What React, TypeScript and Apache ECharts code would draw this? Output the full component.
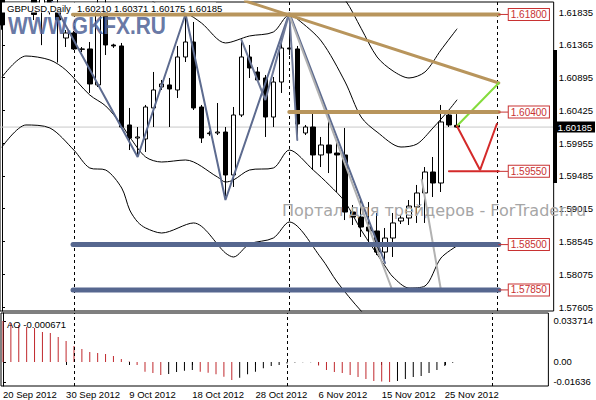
import React, { useEffect, useRef } from 'react';
import * as echarts from 'echarts';

// ---- data ----
const dates = [
  '20 Sep', '21 Sep', '23 Sep', '24 Sep', '25 Sep', '26 Sep', '27 Sep', '28 Sep', '30 Sep',
  '1 Oct', '2 Oct', '3 Oct', '4 Oct', '5 Oct', '7 Oct', '8 Oct', '9 Oct', '10 Oct', '11 Oct', '12 Oct',
  '14 Oct', '15 Oct', '16 Oct', '17 Oct', '18 Oct', '19 Oct', '21 Oct', '22 Oct', '23 Oct', '24 Oct',
  '25 Oct', '26 Oct', '28 Oct', '29 Oct', '30 Oct', '31 Oct', '1 Nov', '2 Nov', '4 Nov', '5 Nov',
  '6 Nov', '7 Nov', '8 Nov', '9 Nov', '11 Nov', '12 Nov', '13 Nov', '14 Nov', '15 Nov', '16 Nov',
  '18 Nov', '19 Nov', '20 Nov', '21 Nov', '22 Nov', '23 Nov', '25 Nov', '26 Nov',
];

// [open, close, low, high]
const ohlc: number[][] = [
  [1.6232, 1.6165, 1.6158, 1.6250],
  [1.6225, 1.6245, 1.6200, 1.6305],
  [1.6244, 1.6238, 1.6232, 1.6250],
  [1.6238, 1.6212, 1.6203, 1.6262],
  [1.6225, 1.6180, 1.6172, 1.6235],
  [1.6190, 1.6228, 1.6136, 1.6240],
  [1.6228, 1.6186, 1.6180, 1.6240],
  [1.6195, 1.6172, 1.6111, 1.6205],
  [1.61462, 1.61534, 1.61333, 1.61577],
  [1.61534, 1.61305, 1.61290, 1.61563],
  [1.61305, 1.61300, 1.61261, 1.61333],
  [1.61305, 1.60803, 1.60674, 1.61405],
  [1.60789, 1.61930, 1.60760, 1.62050],
  [1.61930, 1.61362, 1.61218, 1.62030],
  [1.61362, 1.61348, 1.61320, 1.61380],
  [1.61348, 1.60186, 1.60172, 1.61391],
  [1.60215, 1.60028, 1.59856, 1.60459],
  [1.60028, 1.60043, 1.59756, 1.60186],
  [1.60014, 1.60473, 1.59828, 1.60502],
  [1.60459, 1.60717, 1.60186, 1.60975],
  [1.60760, 1.60803, 1.60717, 1.60860],
  [1.60789, 1.60731, 1.60186, 1.60889],
  [1.60717, 1.61190, 1.60602, 1.61348],
  [1.61190, 1.61405, 1.61118, 1.61806],
  [1.61405, 1.60459, 1.60430, 1.61692],
  [1.60473, 1.60028, 1.59957, 1.60502],
  [1.60100, 1.60090, 1.60060, 1.60130],
  [1.60100, 1.60114, 1.60071, 1.60530],
  [1.60114, 1.59498, 1.59139, 1.60186],
  [1.59498, 1.60358, 1.59326, 1.60473],
  [1.60358, 1.61190, 1.60329, 1.61434],
  [1.61190, 1.61032, 1.60889, 1.61362],
  [1.60975, 1.60860, 1.60831, 1.61046],
  [1.60889, 1.60329, 1.60043, 1.60932],
  [1.60329, 1.60831, 1.60186, 1.60903],
  [1.60831, 1.61319, 1.60674, 1.61462],
  [1.61319, 1.61305, 1.61218, 1.61821],
  [1.61305, 1.60229, 1.60000, 1.61348],
  [1.60100, 1.60186, 1.60071, 1.60215],
  [1.60186, 1.59785, 1.59569, 1.60401],
  [1.59785, 1.59928, 1.59612, 1.60043],
  [1.59928, 1.59813, 1.59526, 1.60401],
  [1.59813, 1.59785, 1.59254, 1.59957],
  [1.59785, 1.58967, 1.58852, 1.60172],
  [1.58967, 1.58895, 1.58781, 1.59068],
  [1.58895, 1.58752, 1.58609, 1.59139],
  [1.58752, 1.58695, 1.58465, 1.59110],
  [1.58695, 1.58393, 1.58350, 1.58953],
  [1.58393, 1.58594, 1.58236, 1.58738],
  [1.58594, 1.58810, 1.58322, 1.58953],
  [1.58838, 1.58881, 1.58795, 1.58924],
  [1.58881, 1.59053, 1.58781, 1.59139],
  [1.59039, 1.59240, 1.58810, 1.59355],
  [1.59240, 1.59541, 1.58810, 1.59612],
  [1.59541, 1.59383, 1.59182, 1.59756],
  [1.59383, 1.60258, 1.59254, 1.60502],
  [1.60358, 1.60215, 1.60186, 1.60401],
  [1.60210, 1.60185, 1.60175, 1.60371],
];

const aoValues = [
  0.033714, 0.03206, 0.03041, 0.02877, 0.02795, 0.02466, 0.02384, 0.02055, 0.01726, 0.01315,
  0.01069, 0.00822, 0.0074, 0.00658, 0.00493, 0.00247, 0.00041, -0.00247, -0.00797, -0.00904,
  -0.01069, -0.00986, -0.00822, -0.00715, -0.00658, -0.00797, -0.0088, -0.01011, -0.01208, -0.0148,
  -0.01291, -0.01011, -0.00797, -0.00518, -0.00329, -0.00247, -0.00123, -0.00049, -0.00025, -0.00016,
  -0.00288, -0.00658, -0.00822, -0.00904, -0.01069, -0.01233, -0.01397, -0.01562, -0.01611, -0.01636,
  -0.01562, -0.01397, -0.01233, -0.01151, -0.00904, -0.00658, -0.00329, -0.000671,
];

// indicator band readings: [bar index, price]
const outerUpper = [[38, 1.62581], [41, 1.62222], [43, 1.62007], [45, 1.6160], [47, 1.6119], [49, 1.60989], [51, 1.60889], [53, 1.60975], [55, 1.6129], [57, 1.61591]];
const innerUpper = [[10, 1.6229], [14, 1.6215], [18, 1.6205], [20, 1.61907], [23, 1.61821], [25, 1.61677], [28, 1.61391], [31, 1.61491], [34, 1.61548], [36, 1.61792], [37, 1.61735], [40, 1.61419], [43, 1.60831], [45, 1.60329], [47, 1.60114], [50, 1.59899], [52, 1.59942], [54, 1.60172], [56, 1.6043], [57, 1.60573]];
const innerLower = [[0, 1.60903], [3, 1.61204], [6, 1.61147], [8, 1.61003], [11, 1.60645], [13, 1.60487], [15, 1.60215], [16, 1.60043], [18, 1.59756], [20, 1.59684], [23, 1.59713], [27, 1.59469], [28, 1.59397], [29, 1.59426], [31, 1.59569], [34, 1.59598], [36, 1.59856], [39, 1.59569], [41, 1.59355], [43, 1.5911], [45, 1.58709], [48, 1.58193], [49, 1.58035], [51, 1.57877], [53, 1.57906], [55, 1.58307], [57, 1.5848]];
const outerLower = [[0, 1.59899], [3, 1.60215], [6, 1.60172], [9, 1.59856], [11, 1.59598], [13, 1.59569], [15, 1.59311], [16, 1.58996], [17, 1.58824], [18, 1.58738], [20, 1.58666], [24, 1.5881], [28, 1.58379], [29, 1.58322], [31, 1.58508], [34, 1.58594], [36, 1.58824], [40, 1.58307], [42, 1.57963], [45, 1.57548], [48, 1.57204], [52, 1.56988], [57, 1.57132]];

// drawn objects: [bar index, price]
const zigzagMain = [[1, 1.631], [17, 1.59756], [23, 1.61806], [28, 1.59139], [36, 1.61821], [48, 1.58236]];
const zigzagMinor = [[30, 1.61434], [33, 1.60573], [36, 1.61821], [37, 1.6]];
const grayProjA = [[36, 1.6179], [48.9, 1.57849]];
const grayProjB = [[52.6, 1.5943], [55, 1.57849]];
const trendLine = [[30.5, 1.61993], [62.25, 1.60817]];
const greenPath = [[57, 1.6020], [62.25, 1.60817]];
const redPath = [[57, 1.6020], [59.9, 1.59569], [62, 1.60229]];

const levelValues = [1.618, 1.604, 1.5955, 1.585, 1.5785];
const levelStarts = [8.9, 36, 56, 8.9, 8.9];
const levelEnd = 62.25;
const labelEnd = 63.5;

const priceTicks = [1.61835, 1.61365, 1.60895, 1.60425, 1.59955, 1.59485, 1.59015, 1.58545, 1.58075, 1.57605];
const aoTicks = [0.033714, 0, -0.01636];
const aoTickLabels = ['0.033714', '0.00', '-0.01636'];
const dateLabelIdx = [0, 8, 16, 24, 32, 40, 48, 56];
const monthSeparators = [9, 36, 62];

// ---- styles ----
const X_MIN = -0.25;
const X_MAX = 69.125;
const FONT = 'Liberation Sans';
const levelColors = ['#b8955c', '#b8955c', '#d42a2a', '#56678f', '#56678f'];
const levelWidths = [4, 4, 2, 5, 5];
const BOX_RED = '#c83232';

export default function App() {
  const ref = useRef<HTMLDivElement>(null);
  useEffect(() => {
    const chart = echarts.init(ref.current!, null, { renderer: 'svg' });
    const last = ohlc[ohlc.length - 1];
    const thin = (data: number[][], color: string, width: number, z: number, smooth: number | boolean = false) => ({
      type: 'line', xAxisIndex: 0, yAxisIndex: 0, data, symbol: 'none', showSymbol: false,
      smooth, silent: true, clip: true, z,
      lineStyle: { color, width, cap: 'round' },
    });
    const series: any[] = [
      // bid line
      {
        ...thin([[X_MIN, last[1]], [X_MAX, last[1]]], '#c8c8c8', 1, 1),
        endLabel: {
          show: true, formatter: last[1].toFixed(5), color: '#fff',
          backgroundColor: '#000', padding: [1, 3, 0, 3], fontSize: 9.5, fontFamily: FONT, distance: 1,
        },
      },
      {
        type: 'candlestick', xAxisIndex: 0, yAxisIndex: 0, z: 2, clip: true, silent: true,
        data: ohlc.map((d, i) => [i, d[0], d[1], d[2], d[3]]),
        encode: { x: 0, y: [1, 2, 3, 4] },
        barWidth: 5,
        itemStyle: { color: '#ffffff', color0: '#000000', borderColor: '#000000', borderColor0: '#000000', borderWidth: 1 },
      },
      thin(outerUpper, '#000', 1, 3, 0.3),
      thin(innerUpper, '#000', 1, 3, 0.3),
      thin(innerLower, '#000', 1, 3, 0.3),
      thin(outerLower, '#000', 1, 3, 0.3),
      {
        ...thin(zigzagMain, '#5d6b8f', 2, 5),
        markLine: {
          silent: true, symbol: ['none', 'none'], animation: false, label: { show: false },
          lineStyle: { color: '#000', type: [3, 3], width: 1 },
          data: monthSeparators.map((v) => ({ xAxis: v })),
        },
      },
      thin(zigzagMinor, '#6f7a99', 2, 5),
      thin(grayProjA, '#b2b2b2', 2, 5),
      thin(grayProjB, '#b2b2b2', 2, 5),
      thin(trendLine, '#b8955c', 3, 6),
      thin(greenPath, '#84dc3c', 2, 6),
      thin(redPath, '#d42a2a', 2, 6),
    ];
    levelValues.forEach((lv, k) => {
      series.push(thin([[levelStarts[k], lv], [levelEnd, lv]], levelColors[k], levelWidths[k], 6));
      series.push({
        ...thin([[levelEnd, lv], [labelEnd, lv]], BOX_RED, 1, 7),
        endLabel: {
          show: true, formatter: lv.toFixed(5), color: BOX_RED, backgroundColor: '#fff',
          borderColor: BOX_RED, borderWidth: 1, padding: [1, 2, 0, 2], fontSize: 10, fontFamily: FONT, distance: 0,
        },
      });
    });
    series.push({
      type: 'bar', xAxisIndex: 1, yAxisIndex: 1, silent: true, barWidth: 1,
      data: aoValues.map((v, i) => [i, v]),
      itemStyle: {
        color: (p: any) => {
          const i = p.dataIndex;
          return i === 0 || aoValues[i] < aoValues[i - 1] ? '#c0282d' : '#000000';
        },
      },
      markLine: {
        silent: true, symbol: ['none', 'none'], animation: false, label: { show: false },
        lineStyle: { color: '#000', type: [3, 3], width: 1 },
        data: monthSeparators.map((v) => ({ xAxis: v })),
      },
    });

    const option: any = {
      animation: false,
      backgroundColor: '#ffffff',
      textStyle: { fontFamily: FONT },
      grid: [
        { left: 0, right: 41, top: 2, height: 309, show: true, borderColor: '#000', borderWidth: 1 },
        { left: 0, right: 41, top: 313, height: 73, show: true, borderColor: '#000', borderWidth: 1 },
      ],
      xAxis: [
        { type: 'value', gridIndex: 0, min: X_MIN, max: X_MAX, show: false },
        {
          type: 'value', gridIndex: 1, min: X_MIN, max: X_MAX, position: 'bottom',
          axisLine: { show: false },
          axisTick: { show: true, customValues: dateLabelIdx, length: 3, lineStyle: { color: '#000' } },
          axisLabel: {
            show: true, customValues: dateLabelIdx, formatter: (v: number) => dates[v] + ' 2012',
            align: 'left', margin: 3, fontSize: 9.5, color: '#000', fontFamily: FONT,
          },
          splitLine: { show: false },
        },
      ],
      yAxis: [
        {
          type: 'value', gridIndex: 0, position: 'right', min: 1.575477, max: 1.619784, scale: true,
          axisLine: { show: true, lineStyle: { color: '#000' } },
          axisTick: { show: true, customValues: priceTicks, length: 3, lineStyle: { color: '#000' } },
          axisLabel: {
            show: true, customValues: priceTicks, formatter: (v: number) => v.toFixed(5),
            color: '#000', fontSize: 9.5, fontFamily: FONT, margin: 5,
          },
          splitLine: { show: false },
        },
        {
          type: 'value', gridIndex: 1, position: 'right', min: -0.01973, max: 0.04028, scale: true,
          axisLine: { show: true, lineStyle: { color: '#000' } },
          axisTick: { show: true, customValues: aoTicks, length: 3, lineStyle: { color: '#000' } },
          axisLabel: {
            show: true, customValues: aoTicks,
            formatter: (v: number) => {
              const k = aoTicks.findIndex((t) => Math.abs(t - v) < 1e-9);
              return k >= 0 ? aoTickLabels[k] : String(v);
            },
            color: '#000', fontSize: 9.5, fontFamily: FONT, margin: 5,
          },
          splitLine: { show: false },
        },
      ],
      series,
      graphic: [
        { type: 'rect', z: 50, shape: { x: 553, y: 50, width: 4, height: 133 }, style: { fill: '#000' } },
        {
          type: 'text', z: 40, x: 8, y: 26.5, scaleX: 0.91,
          style: { text: 'WWW.GKFX.RU', fill: '#55679a', opacity: 0.9, fontSize: 23, fontWeight: 'bold', fontFamily: FONT, verticalAlign: 'middle' },
        },
        {
          type: 'text', z: 40, x: 282, y: 210,
          style: { text: 'Портал для трейдеров - ForTrader.ru', fill: '#a6a6a6', fontSize: 16, fontFamily: 'DejaVu Sans', verticalAlign: 'middle' },
        },
        { type: 'rect', z: 40, shape: { x: 2, y: 2.5, width: 214, height: 10 }, style: { fill: '#fff' } },
        {
          type: 'text', z: 41, x: 7, y: 8,
          style: { text: 'GBPUSD,Daily', fill: '#000', fontSize: 9.5, fontFamily: FONT, verticalAlign: 'middle' },
        },
        {
          type: 'text', z: 41, x: 77, y: 8,
          style: { text: `${last[0].toFixed(5)} ${last[3].toFixed(5)} ${last[2].toFixed(5)} ${last[1].toFixed(5)}`, fill: '#000', fontSize: 9.5, fontFamily: FONT, verticalAlign: 'middle' },
        },
        {
          type: 'text', z: 41, x: 7, y: 324,
          style: { text: `AO ${aoValues[aoValues.length - 1].toFixed(6)}`, fill: '#000', fontSize: 9.5, fontFamily: FONT, verticalAlign: 'middle' },
        },
      ],
    };
    chart.setOption(option);
    return () => chart.dispose();
  }, []);
  return <div ref={ref} style={{ position: 'fixed', left: 0, top: 0, width: 596, height: 400, background: '#fff' }} />;
}
